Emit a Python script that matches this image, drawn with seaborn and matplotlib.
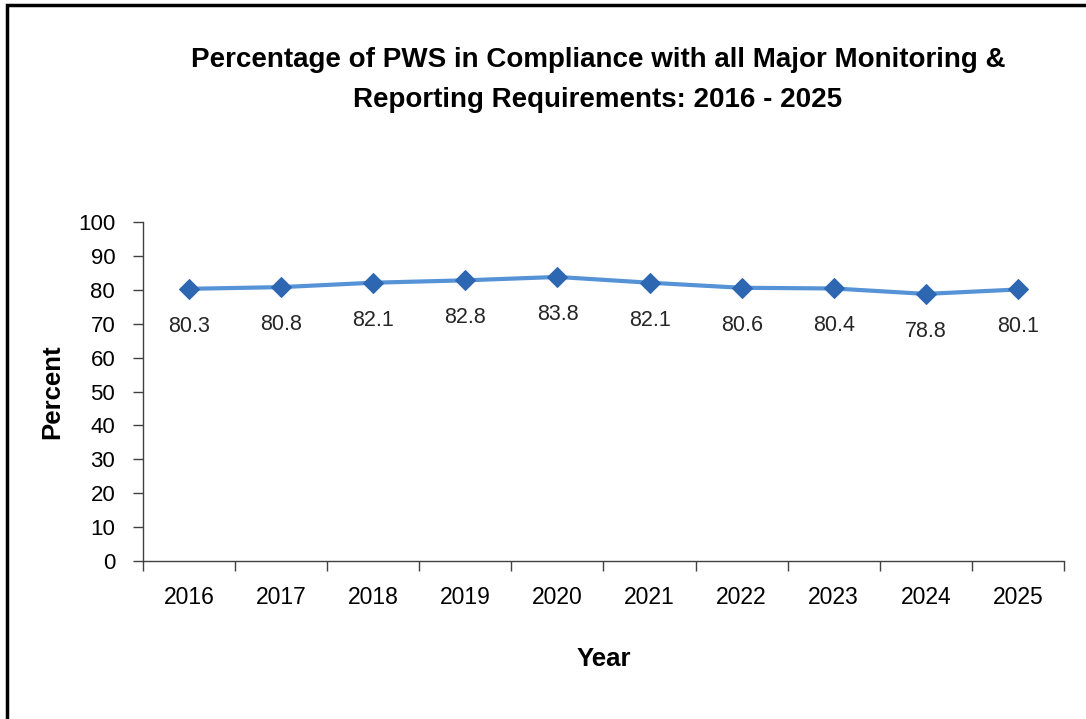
import pandas as pd
import numpy as np
import seaborn as sns
import matplotlib.pyplot as plt
from matplotlib.patches import Rectangle

years = ['2016', '2017', '2018', '2019', '2020', '2021', '2022', '2023', '2024', '2025']
percent = [80.3, 80.8, 82.1, 82.8, 83.8, 82.1, 80.6, 80.4, 78.8, 80.1]
yticks = [0, 10, 20, 30, 40, 50, 60, 70, 80, 90, 100]

df = pd.DataFrame({'Year': years, 'Percent': percent})

sns.set_style('white')
plt.rcParams['font.family'] = ['Liberation Sans', 'DejaVu Sans']
plt.rcParams['text.color'] = 'black'
plt.rcParams['axes.labelcolor'] = 'black'
plt.rcParams['xtick.color'] = 'black'
plt.rcParams['ytick.color'] = 'black'

fig = plt.figure(figsize=(10.86, 7.19), dpi=100)
ax = fig.add_axes([0.1317, 0.2197, 0.848, 0.4715])

sns.lineplot(data=df, x='Year', y='Percent', ax=ax, color='#5593d6', linewidth=3,
             marker='D', markersize=10, markerfacecolor='#2e67b1', markeredgecolor='#2e67b1')

for i, v in enumerate(percent):
    ax.annotate(f'{v}', (i, v), xytext=(0, -27), textcoords='offset points',
                ha='center', va='center', fontsize=15.5, color='#262626')

ax.set_ylim(0, 100)
ax.set_yticks(yticks)
ax.set_xlim(-0.5, len(years) - 0.5)
ax.set_xticks(range(len(years)))
ax.set_xticklabels(years)
ax.set_xticks(np.arange(-0.5, len(years)), minor=True)
ax.tick_params(axis='x', which='major', length=0, pad=18, labelsize=16.5)
ax.tick_params(axis='x', which='minor', length=7, width=1, color='#404040', direction='out')
ax.tick_params(axis='y', length=7, width=1, color='#404040', direction='out', labelsize=16, pad=13)
ax.tick_params(bottom=True, left=True, which='both')

sns.despine(ax=ax)
for s in ['left', 'bottom']:
    ax.spines[s].set_color('#404040')
    ax.spines[s].set_linewidth(1)

ax.set_xlabel('Year', fontsize=18.5, fontweight='bold', labelpad=27)
ax.set_ylabel('Percent', fontsize=18.5, fontweight='bold', labelpad=10)

fig.text(0.5506, 0.889, 'Percentage of PWS in Compliance with all Major Monitoring &\nReporting Requirements: 2016 - 2025',
         ha='center', va='center', fontsize=20, fontweight='bold', linespacing=1.72)

fig.patches.append(Rectangle((0.0065, -0.1), 1.2, 1.093, transform=fig.transFigure,
                             fill=False, edgecolor='black', linewidth=2.5))

plt.savefig('out.png', dpi=100)
